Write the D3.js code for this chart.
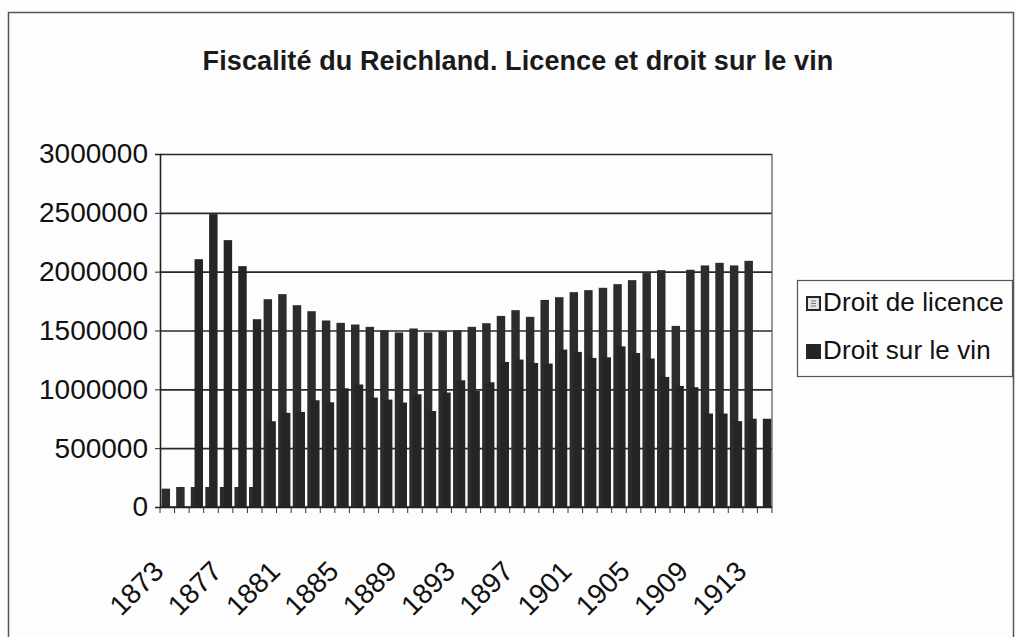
<!DOCTYPE html>
<html>
<head>
<meta charset="utf-8">
<script src="https://cdn.jsdelivr.net/npm/d3@7"></script>
<style>
  html, body { margin: 0; padding: 0; background: #fdfdfd; }
  svg { display: block; font-family: "Liberation Sans", Arial, sans-serif; }
</style>
</head>
<body>
<div id="chart"></div>
<script>

const years = d3.range(1873, 1915);
const yearLabels = [1873, 1877, 1881, 1885, 1889, 1893, 1897, 1901, 1905, 1909, 1913];
const seriesNames = ['Droit de licence', 'Droit sur le vin'];

// droit de licence (1914 missing)
const licence = [156000, 170000, 170000, 170000, 170000, 170000, 170000,
	1766000, 1809000, 1715000, 1664000, 1585000, 1565000, 1551000, 1531000,
	1502000, 1483000, 1517000, 1483000, 1494000, 1502000, 1531000, 1562000,
	1624000, 1673000, 1616000, 1760000, 1783000, 1826000, 1843000, 1863000,
	1894000, 1928000, 1988000, 2013000, 1539000, 2016000, 2053000, 2075000,
	2053000, 2092000, null];

// droit sur le vin
const vin = [0, 0, 2106000, 2489000, 2268000, 2047000, 1596000,
	729000, 800000, 808000, 907000, 890000, 1009000, 1041000, 930000,
	913000, 888000, 958000, 816000, 973000, 1077000, 986000, 1060000,
	1233000, 1253000, 1224000, 1219000, 1338000, 1318000, 1267000, 1272000,
	1365000, 1309000, 1262000, 1105000, 1029000, 1018000, 794000, 794000,
	730000, 750000, 750000];

const yTicks = [0, 500000, 1000000, 1500000, 2000000, 2500000, 3000000];

const W = 1016, H = 637;
const plotL = 160, plotR = 772, plotT = 154, plotB = 507;

const svg = d3.select('#chart').append('svg')
	.attr('width', W)
	.attr('height', H);

// outer chart frame
svg.append('rect')
	.attr('x', 8.5).attr('y', 12.5)
	.attr('width', 1005).attr('height', 660)
	.attr('fill', '#fdfdfd')
	.attr('stroke', '#555').attr('stroke-width', 1.5);

svg.append('text')
	.attr('x', 518).attr('y', 70)
	.attr('text-anchor', 'middle')
	.style('font-size', '27px')
	.style('font-weight', 'bold')
	.style('letter-spacing', '0.1px')
	.attr('fill', '#1a1a1a')
	.text('Fiscalité du Reichland. Licence et droit sur le vin');

const scaleX = d3.scaleBand().domain(years).range([plotL, plotR]);
const scaleY = d3.scaleLinear().domain([0, 3000000]).range([plotB, plotT]);
const bw = scaleX.bandwidth();

////////////////////////////////////////////////////////////////////

// gridlines
const grid = d3.axisLeft(scaleY)
	.tickValues(yTicks)
	.tickSize(-(plotR - plotL))
	.tickFormat('');
svg.append('g')
	.attr('class', 'grid')
	.attr('transform', `translate(${plotL},0)`)
	.call(grid)
	.call(g => g.select('.domain').remove())
	.call(g => g.selectAll('line').attr('stroke', '#2a2a2a').attr('stroke-width', 1.6));

// plot border (right side)
svg.append('line')
	.attr('x1', plotR).attr('x2', plotR)
	.attr('y1', plotT).attr('y2', plotB)
	.attr('stroke', '#555').attr('stroke-width', 1.2);

////////////////////////////////////////////////////////////////////

const sub = d3.scalePoint().domain(seriesNames).range([bw * 0.11, bw * 0.37]);
const barW = bw * 0.58;

const rows = years.map((yr, i) => ({year: yr, licence: licence[i], vin: vin[i]}));

svg.append('g').selectAll('.bar-licence')
	.data(rows.filter(d => d.licence))
	.enter().append('rect')
	.attr('class', 'bar-licence')
	.attr('x', d => scaleX(d.year) + sub(seriesNames[0]))
	.attr('y', d => scaleY(d.licence))
	.attr('width', barW)
	.attr('height', d => scaleY(0) - scaleY(d.licence))
	.attr('fill', '#2c2c2c');

svg.append('g').selectAll('.bar-vin')
	.data(rows.filter(d => d.vin))
	.enter().append('rect')
	.attr('class', 'bar-vin')
	.attr('x', d => scaleX(d.year) + sub(seriesNames[1]))
	.attr('y', d => scaleY(d.vin))
	.attr('width', barW)
	.attr('height', d => scaleY(0) - scaleY(d.vin))
	.attr('fill', '#252525');

////////////////////////////////////////////////////////////////////

const axisY = d3.axisLeft(scaleY)
	.tickValues(yTicks)
	.tickSize(5)
	.tickPadding(7)
	.tickFormat(d3.format('d'));
svg.append('g')
	.attr('class', 'axis axis-y')
	.attr('transform', `translate(${plotL},0)`)
	.call(axisY)
	.call(g => g.select('.domain').attr('stroke', '#222').attr('stroke-width', 1.6))
	.call(g => g.selectAll('line').attr('stroke', '#222'))
	.call(g => g.selectAll('text')
		.attr('fill', '#111')
		.style('font-size', '28px')
		.style('letter-spacing', '0px')
		.style('font-family', '"Liberation Sans", Arial, sans-serif'));

// x axis: baseline, ticks between categories, rotated labels
const xAxis = svg.append('g').attr('class', 'axis axis-x');
xAxis.append('line')
	.attr('x1', plotL).attr('x2', plotR)
	.attr('y1', plotB).attr('y2', plotB)
	.attr('stroke', '#222').attr('stroke-width', 1.6);
xAxis.selectAll('.tick')
	.data(years.concat([null]))
	.enter().append('line')
	.attr('class', 'tick')
	.attr('x1', d => d === null ? plotR : scaleX(d))
	.attr('x2', d => d === null ? plotR : scaleX(d))
	.attr('y1', plotB).attr('y2', plotB + 6)
	.attr('stroke', '#333');
xAxis.selectAll('.label')
	.data(yearLabels)
	.enter().append('text')
	.attr('class', 'label')
	.attr('text-anchor', 'end')
	.attr('transform', d => `translate(${scaleX(d) + bw / 2 - 2},${plotB + 66}) rotate(-45)`)
	.style('font-size', '28px')
	.attr('fill', '#111')
	.text(d => d);

////////////////////////////////////////////////////////////////////

const legend = svg.append('g').attr('class', 'legend');
legend.append('rect')
	.attr('x', 797.5).attr('y', 280.5)
	.attr('width', 215).attr('height', 96)
	.attr('fill', '#fdfdfd')
	.attr('stroke', '#555').attr('stroke-width', 1.2);

const legItems = legend.selectAll('.item')
	.data(seriesNames)
	.enter().append('g')
	.attr('class', 'item')
	.attr('transform', (d, i) => `translate(807,${297 + i * 48})`);

legItems.append('rect')
	.attr('width', 13).attr('height', 13)
	.attr('fill', (d, i) => i === 0 ? '#e4e4e4' : '#252525')
	.attr('stroke', '#252525').attr('stroke-width', 2);
legItems.filter((d, i) => i === 0).append('path')
	.attr('d', 'M4,4 L9,4 M4,6.5 L9,6.5 M4,9 L9,9')
	.attr('stroke', '#777').attr('stroke-width', 1);
legItems.append('text')
	.attr('x', 16).attr('y', 14)
	.style('font-size', '26px')
	.style('letter-spacing', '0.1px')
	.attr('fill', '#111')
	.text(d => d);

</script>
</body>
</html>
